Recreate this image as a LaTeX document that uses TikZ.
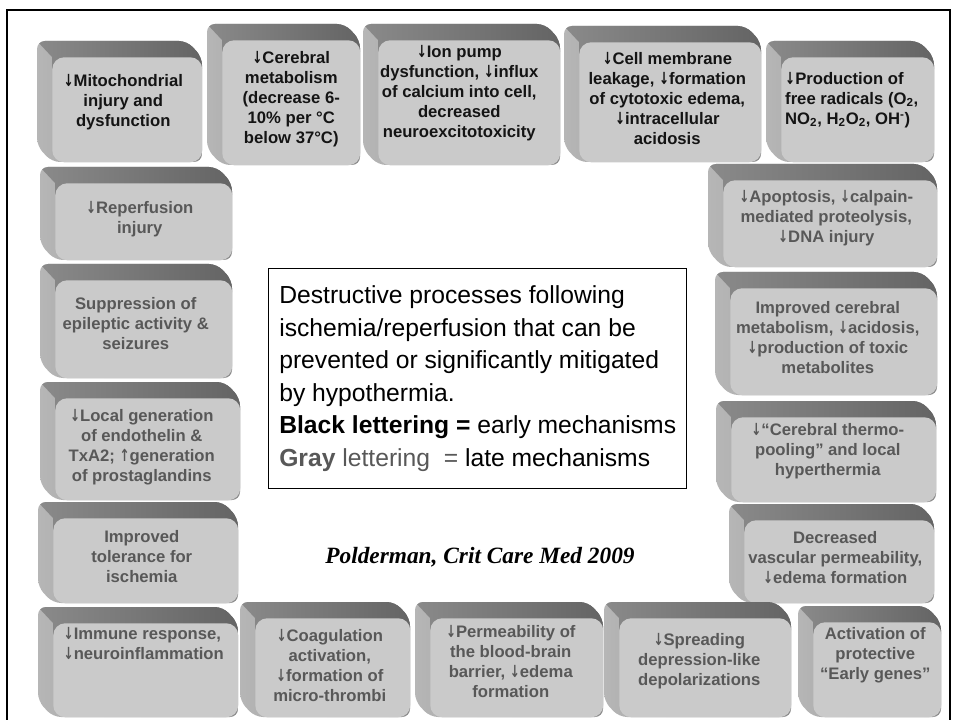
\documentclass[tikz,border=0pt]{standalone}
\usepackage{fontspec}
\setmainfont{Liberation Sans}
\newfontfamily\citefont{Liberation Serif}
\newfontfamily\arrowfont{DejaVu Sans}
\usepackage{xcolor}
\definecolor{facegray}{RGB}{202,202,202}
\definecolor{sidelight}{RGB}{182,182,182}
\definecolor{sidedark}{RGB}{138,138,138}
\definecolor{toplight}{RGB}{138,138,138}
\definecolor{topdark}{RGB}{100,100,100}
\definecolor{blacktxt}{RGB}{20,20,20}
\definecolor{graytxt}{RGB}{88,88,88}

\newcommand{\dn}{\scalebox{0.72}[1]{\arrowfont\bfseries\symbol{"2193}}}
\newcommand{\up}{\scalebox{0.72}[1]{\arrowfont\bfseries\symbol{"2191}}}
% #1 name, #2 x, #3 y, #4 w, #5 h, #6 text shift, #7 text options, #8 text
\newcommand{\mech}[8]{%
\shade [left color=sidelight, right color=sidedark, rounded corners=6pt] ({#2-15},{#3-16}) -- ({#2+#4-15},{#3-16}) -- ({#2+#4},{#3}) -- ({#2+#4},{#3+#5}) -- ({#2},{#3+#5}) -- ({#2-15},{#3+#5-16}) -- cycle;
\begin{scope}
\clip [rounded corners=6pt] ({#2-15},{#3-16}) -- ({#2+#4-15},{#3-16}) -- ({#2+#4},{#3}) -- ({#2+#4},{#3+#5}) -- ({#2},{#3+#5}) -- ({#2-15},{#3+#5-16}) -- cycle;
\shade [left color=toplight, right color=topdark] ({#2-15},{#3-16}) -- ({#2+#4-15},{#3-16}) -- ({#2+#4},{#3}) -- ({#2+#4},{#3+12}) -- ({#2},{#3+12}) -- ({#2},{#3}) -- cycle;
\end{scope}
\node [face, minimum width={#4*0.75pt}, minimum height={#5*0.75pt}] (#1) at (#2,#3) {};
\node [mtext, #7] (#1-t) at ([shift={(#6)}]#1.center) {#8};
}

\begin{document}
\begin{tikzpicture}[x=0.75pt, y=-0.75pt,
  face/.style={anchor=north west, fill=facegray, rounded corners=9pt, inner sep=0pt},
  mtext/.style={font=\fontsize{12.5}{15}\selectfont\bfseries, align=center, inner sep=1pt},
  early/.style={text=blacktxt},
  late/.style={text=graytxt}]
\useasboundingbox (0,0) rectangle (956,720);
\fill [white] (0,0) rectangle (956,720);
\clip (0,0) rectangle (956,720);
\draw [line width=1.6pt] (7,740) -- (7,10) -- (950,10) -- (950,740);

% top row
\mech{mito}{52}{57}{150}{105}{-4,-8}{early}{\dn Mitochondrial\\injury and\\dysfunction}
\mech{metab}{222}{40}{138}{125}{0,-4}{early}{\dn Cerebral\\metabolism\\(decrease 6-\\10\% per °C\\below 37°C)}
\mech{ionpump}{378}{40}{182}{125}{-10,-10}{early}{\dn Ion pump\\dysfunction, \dn influx\\of calcium into cell,\\decreased\\neuroexcitotoxicity}
\mech{membrane}{579}{42}{182}{120}{-3,-4}{early}{\dn Cell membrane\\leakage, \dn formation\\of cytotoxic edema,\\\dn intracellular\\acidosis}
\mech{radicals}{781}{57}{153}{105}{-6,-10}{early, align=left}{\dn Production of\\free radicals (O\textsubscript{2},\\NO\textsubscript{2}, H\textsubscript{2}O\textsubscript{2}, OH\textsuperscript{-})}

% right column
\mech{apopt}{723}{180}{214}{87}{-4,-6}{late}{\dn Apoptosis, \dn calpain-\\mediated proteolysis,\\\dn DNA injury}
\mech{improved}{730}{288}{207}{107}{-6,-4}{late}{Improved cerebral\\metabolism, \dn acidosis,\\\dn production of toxic\\metabolites}
\mech{pooling}{731}{417}{205}{85}{-6,-9}{late}{\dn “Cerebral thermo-\\pooling” and local\\hyperthermia}
\mech{vascular}{744}{520}{190}{83}{-4,-4}{late}{Decreased\\vascular permeability,\\\dn edema formation}

% bottom row
\mech{immune}{53}{623}{185}{94}{-2,-27}{late, align=left}{\dn Immune response,\\\dn neuroinflammation}
\mech{coag}{255}{618}{155}{99}{-3,-2}{late}{\dn Coagulation\\activation,\\\dn formation of\\micro-thrombi}
\mech{bbb}{430}{618}{173}{99}{-6,-6}{late}{\dn Permeability of\\the blood-brain\\barrier, \dn edema\\formation}
\mech{spread}{619}{618}{172}{99}{-6,-7}{late}{\dn Spreading\\depression-like\\depolarizations}
\mech{genes}{813}{622}{128}{95}{-2,-15}{late}{Activation of\\protective\\“Early genes”}

% left column
\mech{reperf}{55}{183}{177}{77}{-4,-3}{late}{\dn Reperfusion\\injury}
\mech{seizure}{55}{280}{177}{98}{-8,-6}{late}{Suppression of\\epileptic activity \&\\seizures}
\mech{endoth}{55}{398}{185}{102}{-6,-2}{late}{\dn Local generation\\of endothelin \&\\TxA2; \up generation\\of prostaglandins}
\mech{toler}{53}{518}{185}{85}{-4,-4}{late}{Improved\\tolerance for\\ischemia}

\node [draw, line width=1.1pt, fill=white, anchor=north west, minimum width={418*0.75pt}, minimum height={220*0.75pt}, align=left, inner sep=0pt, font=\fontsize{18.5}{24.4}\selectfont] (legend) at (268,268) {Destructive processes following\\ischemia/reperfusion that can be\\prevented or significantly mitigated\\by hypothermia.\\{\bfseries Black lettering =} early mechanisms\\{\color{graytxt}{\bfseries Gray} lettering \ =} late mechanisms};

\node [font=\citefont\bfseries\itshape\fontsize{17.5}{20}\selectfont] (cite) at (480,557) {Polderman, Crit Care Med 2009};
\end{tikzpicture}
\end{document}
